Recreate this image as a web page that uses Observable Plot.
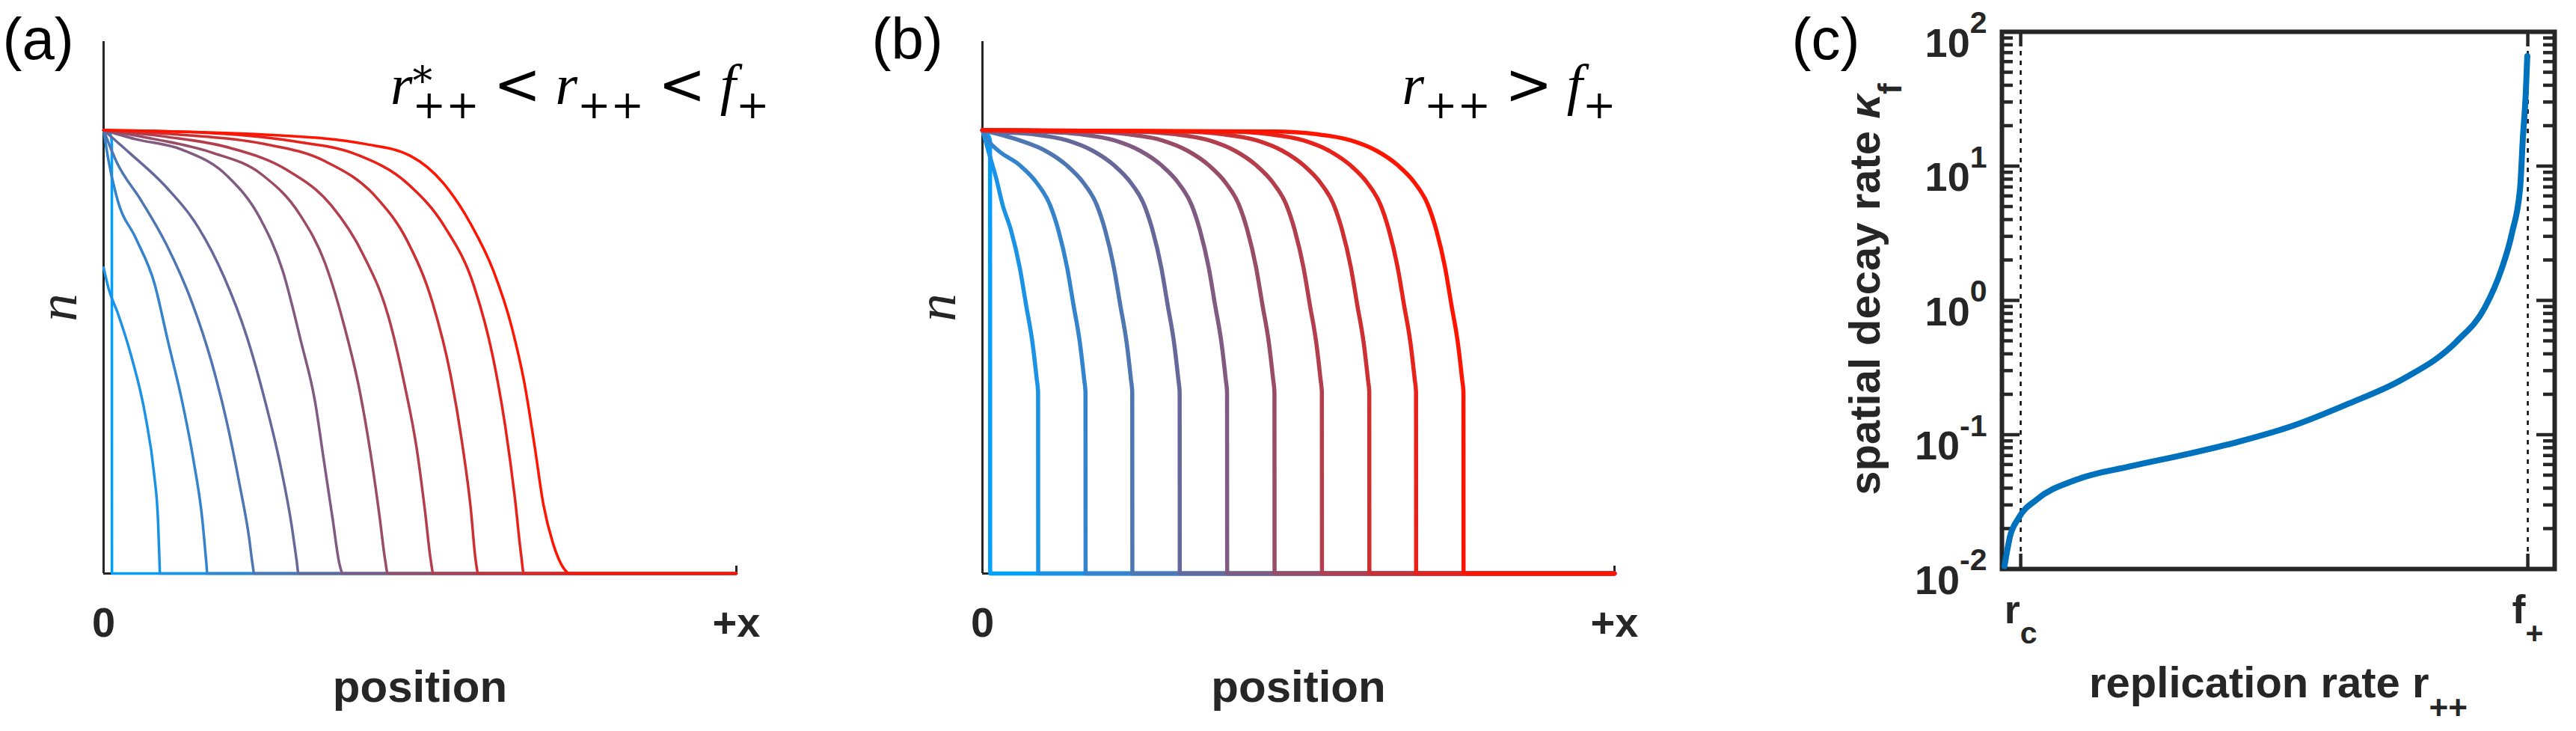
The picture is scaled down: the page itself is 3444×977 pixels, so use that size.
<!DOCTYPE html>
<html><head><meta charset="utf-8">
<script src="https://cdn.jsdelivr.net/npm/d3@7"></script>
<script src="https://cdn.jsdelivr.net/npm/@observablehq/plot@0.6"></script>
<style>
html,body{margin:0;padding:0;background:#fff;}
#fig{position:relative;width:3444px;height:977px;overflow:hidden;background:#fff;}
</style></head><body><div id="fig"></div>
<script>
// ---------------- data ----------------
const curveIds = [1,2,3,4,5,6,7,8,9,10,11];
// panel (a): profiles n(position), r*++ < r++ < f+
const a1 = [[0,1],[0.011,0.99],[0.013,0.97],[0.0132,0],[1,0]];
const a2 = [[0,0.69],[0.008,0.642],[0.022,0.589],[0.044,0.489],[0.066,0.356],[0.080,0.222],[0.086,0.12],[0.0885,0.02],[0.089,0],[1,0]];
const a3 = [[0,1],[0.008,0.93],[0.022,0.843],[0.051,0.756],[0.080,0.656],[0.102,0.522],[0.124,0.389],[0.142,0.256],[0.156,0.122],[0.162,0.03],[0.164,0],[1,0]];
const a4 = [[0,1],[0.02,0.93],[0.06,0.84],[0.1,0.74],[0.14,0.61],[0.17,0.48],[0.195,0.34],[0.215,0.2],[0.23,0.08],[0.235,0.025],[0.238,0],[1,0]];
const a5 = [[0,1],[0.04,0.95],[0.1,0.87],[0.15,0.78],[0.19,0.67],[0.225,0.54],[0.255,0.39],[0.28,0.24],[0.297,0.11],[0.305,0.03],[0.308,0],[1,0]];
const a6 = [[0,1],[0.05,0.98],[0.124,0.956],[0.196,0.896],[0.247,0.802],[0.283,0.683],[0.312,0.523],[0.334,0.389],[0.348,0.256],[0.362,0.123],[0.373,0.02],[0.378,0],[1,0]];
const a7 = [[0,1],[0.08,0.98],[0.17,0.95],[0.25,0.9],[0.31,0.81],[0.35,0.7],[0.38,0.56],[0.405,0.41],[0.422,0.27],[0.436,0.13],[0.445,0.03],[0.449,0],[1,0]];
const a8 = [[0,1],[0.1,0.985],[0.2,0.96],[0.29,0.91],[0.36,0.83],[0.41,0.72],[0.45,0.58],[0.475,0.43],[0.495,0.28],[0.508,0.14],[0.517,0.03],[0.521,0],[1,0]];
const a9 = [[0,1],[0.12,0.99],[0.25,0.97],[0.35,0.93],[0.43,0.85],[0.48,0.75],[0.52,0.61],[0.548,0.45],[0.566,0.3],[0.58,0.15],[0.588,0.03],[0.592,0],[1,0]];
const a10 = [[0,1],[0.15,0.995],[0.3,0.975],[0.4,0.945],[0.48,0.88],[0.54,0.78],[0.585,0.65],[0.615,0.49],[0.635,0.33],[0.65,0.17],[0.66,0.04],[0.664,0],[1,0]];
const a11 = [[0,1],[0.268,0.989],[0.413,0.969],[0.485,0.942],[0.536,0.882],[0.58,0.789],[0.616,0.683],[0.645,0.556],[0.666,0.422],[0.681,0.289],[0.695,0.156],[0.71,0.069],[0.728,0.01],[0.736,0],[1,0]];
// panel (b): profiles n(position), r++ > f+ (sharp front at n ~ 0.41)
const b1 = [[0,1],[0.010,0.985],[0.012,0.975],[0.0122,0],[1,0]];
const b2 = [[0,1],[0.012,0.94],[0.022,0.89],[0.032,0.831],[0.045,0.775],[0.059,0.69],[0.069,0.606],[0.079,0.522],[0.086,0.437],[0.088,0.41],[0.0882,0],[1,0]];
const b3 = [[0,1],[0.01,0.975],[0.025,0.954],[0.059,0.921],[0.086,0.881],[0.107,0.831],[0.12,0.775],[0.134,0.69],[0.144,0.606],[0.154,0.522],[0.161,0.437],[0.163,0.41],[0.1632,0],[1,0]];
const b4 = [[0,1],[0.059,0.977],[0.099,0.954],[0.133,0.921],[0.16,0.881],[0.181,0.831],[0.194,0.775],[0.208,0.69],[0.218,0.606],[0.228,0.522],[0.235,0.437],[0.237,0.41],[0.2372,0],[1,0]];
const b5 = [[0,1],[0.012,0.997],[0.079,0.991],[0.134,0.977],[0.174,0.954],[0.208,0.921],[0.235,0.881],[0.256,0.831],[0.269,0.775],[0.283,0.69],[0.293,0.606],[0.303,0.522],[0.31,0.437],[0.312,0.41],[0.3122,0],[1,0]];
const b6 = [[0,1],[0.087,0.997],[0.154,0.991],[0.209,0.977],[0.249,0.954],[0.283,0.921],[0.31,0.881],[0.331,0.831],[0.344,0.775],[0.358,0.69],[0.368,0.606],[0.378,0.522],[0.385,0.437],[0.387,0.41],[0.3872,0],[1,0]];
const b7 = [[0,1],[0.162,0.997],[0.229,0.991],[0.284,0.977],[0.324,0.954],[0.358,0.921],[0.385,0.881],[0.406,0.831],[0.419,0.775],[0.433,0.69],[0.443,0.606],[0.453,0.522],[0.46,0.437],[0.462,0.41],[0.4622,0],[1,0]];
const b8 = [[0,1],[0.077,0.998],[0.237,0.997],[0.304,0.991],[0.359,0.977],[0.399,0.954],[0.433,0.921],[0.46,0.881],[0.481,0.831],[0.494,0.775],[0.508,0.69],[0.518,0.606],[0.528,0.522],[0.535,0.437],[0.537,0.41],[0.5372,0],[1,0]];
const b9 = [[0,1],[0.152,0.998],[0.312,0.997],[0.379,0.991],[0.434,0.977],[0.474,0.954],[0.508,0.921],[0.535,0.881],[0.556,0.831],[0.569,0.775],[0.583,0.69],[0.593,0.606],[0.603,0.522],[0.61,0.437],[0.612,0.41],[0.6122,0],[1,0]];
const b10 = [[0,1],[0.226,0.998],[0.386,0.997],[0.453,0.991],[0.508,0.977],[0.548,0.954],[0.582,0.921],[0.609,0.881],[0.63,0.831],[0.643,0.775],[0.657,0.69],[0.667,0.606],[0.677,0.522],[0.684,0.437],[0.686,0.41],[0.6862,0],[1,0]];
const b11 = [[0,1],[0.301,0.998],[0.461,0.997],[0.528,0.991],[0.583,0.977],[0.623,0.954],[0.657,0.921],[0.684,0.881],[0.705,0.831],[0.718,0.775],[0.732,0.69],[0.742,0.606],[0.752,0.522],[0.759,0.437],[0.761,0.41],[0.7612,0],[1,0]];
// panel (c): spatial decay rate vs replication rate (r_c = 0, f+ = 1)
const cRate  = [-0.032,-0.021,-0.004,0.032,0.108,0.215,0.323,0.431,0.538,0.646,0.754,0.861,0.915,0.947,0.969,0.985,0.990,0.996,0.999];
const cDecay = [0.0105,0.0175,0.024,0.033,0.046,0.058,0.071,0.089,0.117,0.17,0.26,0.50,0.88,1.66,3.2,7.0,15.5,35,66];
// ticks and labels
const abTickPos = [0, 1];
const abTickLabels = ["0", "+x"];
const cXTickPos = [0, 1];
const cXTickLabels = ["r_{c}", "f_{+}"];
const cYMajor = [0.01, 0.1, 1, 10, 100];
const cYTickLabels = ["10^{-2}", "10^{-1}", "10^{0}", "10^{1}", "10^{2}"];
const cYMinor = [0.02,0.03,0.04,0.05,0.06,0.07,0.08,0.09,0.2,0.3,0.4,0.5,0.6,0.7,0.8,0.9,2,3,4,5,6,7,8,9,20,30,40,50,60,70,80,90];
const labelA = "$r^{*}_{++} < r_{++} < f_{+}";
const labelB = "$r_{++} > f_{+}";

// ---------------- helpers ----------------
const profilesA = [a1,a2,a3,a4,a5,a6,a7,a8,a9,a10,a11];
const profilesB = [b1,b2,b3,b4,b5,b6,b7,b8,b9,b10,b11];
const toTable = (profiles) => profiles.flatMap((p, i) => p.map(([x, n]) => ({k: curveIds[i], x, n})));
const tableA = toTable(profilesA);
const tableB = toTable(profilesB);
const tableC = cRate.map((r, i) => ({r, kappa: cDecay[i]}));

const SANS = "'Liberation Sans', Arial, Helvetica, sans-serif";
const SERIF = "'Liberation Serif', 'Times New Roman', serif";
const SYM = "'DejaVu Serif', serif";
const AX = "#262626";
const blueEnd = "#00a0ff", redEnd = "#ff1400";

function profilePanel({table, label, panelLabel, marginLeft, marginRight, lw}) {
  const plotH = 977 - 55 - 211;
  return Plot.plot({
    width: 1150, height: 977, marginTop: 55, marginBottom: 211, marginLeft, marginRight,
    style: {fontFamily: SANS, background: "transparent", overflow: "visible"},
    x: {domain: [0, 1], axis: null},
    y: {domain: [0, 1.2], axis: null},
    color: {type: "linear", domain: [1, 11], range: [blueEnd, redEnd], interpolate: "rgb"},
    marks: [
      Plot.ruleX([0], {stroke: AX, strokeWidth: 3}),
      Plot.ruleY([0], {stroke: AX, strokeWidth: 3}),
      Plot.tickX([1], {stroke: AX, strokeWidth: 3, insetTop: plotH - 10}),
      Plot.line(table, {x: "x", y: "n", z: "k", stroke: "k", strokeWidth: lw, curve: "monotone-x", strokeLinejoin: "round"}),
      Plot.text(abTickPos, {x: d => d, frameAnchor: "bottom", text: (d, i) => abTickLabels[i], lineAnchor: "bottom", dy: 84, fontSize: 56, fontWeight: "bold", fill: AX}),
      Plot.text(["position"], {frameAnchor: "bottom", text: d => d, lineAnchor: "bottom", dy: 171, fontSize: 60, fontWeight: "bold", fill: AX}),
      Plot.text(["n"], {frameAnchor: "left", text: d => d, rotate: -90, textAnchor: "middle", lineAnchor: "middle", dx: -61, fontSize: 75, fontFamily: SERIF, fontStyle: "italic", fill: AX}),
      Plot.text([panelLabel.text], {frameAnchor: "top-left", text: d => d, textAnchor: "start", lineAnchor: "bottom", dx: panelLabel.dx, dy: 23, fontSize: 78, fill: "black"}),
      Plot.text([label.text], {frameAnchor: "top-right", text: d => d, textAnchor: "end", lineAnchor: "bottom", dx: label.dx, dy: 83, fontSize: 76, fontFamily: SERIF, fill: "black"})
    ]
  });
}

const plotA = profilePanel({table: tableA, label: {text: labelA, dx: 44}, panelLabel: {text: "(a)", dx: -135}, marginLeft: 138, marginRight: 166, lw: 3.5});
const plotB = profilePanel({table: tableB, label: {text: labelB, dx: 2}, panelLabel: {text: "(b)", dx: -148}, marginLeft: 163, marginRight: 142, lw: 5.5});

const CW = 1144 - 376 - 29, CH = 977 - 42 - 217;
const tickStyle = {stroke: AX, strokeWidth: 4.5};
const plotC = Plot.plot({
  width: 1144, height: 977, marginLeft: 376, marginRight: 29, marginTop: 42, marginBottom: 217,
  style: {fontFamily: SANS, background: "transparent", overflow: "visible"},
  x: {domain: [-0.037, 1.053], axis: null},
  y: {type: "log", domain: [0.01, 100], axis: null},
  marks: [
    Plot.ruleX(cXTickPos, {stroke: "black", strokeWidth: 2.5, strokeDasharray: "6,7"}),
    Plot.tickY(cYMinor, {...tickStyle, insetRight: CW - 15}),
    Plot.tickY(cYMinor, {...tickStyle, insetLeft: CW - 15}),
    Plot.tickY(cYMajor, {...tickStyle, insetRight: CW - 24}),
    Plot.tickY(cYMajor, {...tickStyle, insetLeft: CW - 24}),
    Plot.tickX(cXTickPos, {...tickStyle, insetTop: CH - 20}),
    Plot.tickX(cXTickPos, {...tickStyle, insetBottom: CH - 20}),
    Plot.frame({stroke: AX, strokeWidth: 6}),
    Plot.line(tableC, {x: "r", y: "kappa", stroke: "#0072bd", strokeWidth: 8, curve: "monotone-x"}),
    Plot.text(cYMajor, {y: d => d, frameAnchor: "left", text: (d, i) => cYTickLabels[i], textAnchor: "end", lineAnchor: "bottom", dx: -20, dy: 33, fontSize: 54, fontWeight: "bold", fill: AX}),
    Plot.text(cXTickPos, {x: d => d, frameAnchor: "bottom", text: (d, i) => cXTickLabels[i], textAnchor: "middle", lineAnchor: "bottom", dy: 72, fontSize: 54, fontWeight: "bold", fill: AX}),
    Plot.text(["replication rate r_{++}"], {frameAnchor: "bottom", text: d => d, textAnchor: "middle", lineAnchor: "bottom", dy: 171, fontSize: 58, fontWeight: "bold", fill: AX}),
    Plot.text(["spatial decay rate κ_{f}"], {frameAnchor: "left", text: d => d, rotate: -90, textAnchor: "middle", lineAnchor: "bottom", dx: -164, dy: -15, fontSize: 58, fontWeight: "bold", fill: AX}),
    Plot.text(["(c)"], {frameAnchor: "top-left", text: d => d, textAnchor: "start", lineAnchor: "bottom", dx: -281, dy: 36, fontSize: 78, fill: "black"})
  ]
});

// rich text: ^{..} superscripts, _{..} subscripts, "$" prefix = math (italic letters, serif symbols)
function parseRich(s) {
  const segs = []; let buf = ""; let i = 0;
  while (i < s.length) {
    const c = s[i];
    if ((c === "^" || c === "_") && s[i + 1] === "{") {
      if (buf) { segs.push({t: buf, k: "n"}); buf = ""; }
      const j = s.indexOf("}", i + 2);
      segs.push({t: s.slice(i + 2, j), k: c === "^" ? "sup" : "sub"});
      i = j + 1;
    } else { buf += c; i++; }
  }
  if (buf) segs.push({t: buf, k: "n"});
  return segs;
}
function richify(root) {
  root.querySelectorAll("text").forEach(el => {
    let s = el.textContent;
    const math = s.startsWith("$");
    if (!math && !/[\^_]\{/.test(s) && !/[α-ω]/.test(s)) return;
    if (math) s = s.slice(1);
    const fs = parseFloat(getComputedStyle(el).fontSize);
    const P = math ? {sc: 0.7, sup: -0.17, sub: 0.26} : {sc: 0.76, sup: -0.58, sub: 0.5};
    const segs = parseRich(s);
    el.textContent = "";
    let base = 0, prev = null, prevW = 0;
    for (const seg of segs) {
      const target = seg.k === "n" ? 0 : (seg.k === "sup" ? P.sup : P.sub) * fs;
      const size = seg.k === "n" ? fs : fs * P.sc;
      const dy = target - base; base = target;
      const dx = (prev && prev.k !== "n" && seg.k !== "n" && prev.k !== seg.k) ? -prevW : 0;
      const re = math ? /[A-Za-z]+|\s+|[^A-Za-z\s]+/g : /[α-ω]+|[^α-ω]+/g;
      const runs = seg.t.match(re) || [seg.t];
      let w = 0;
      runs.forEach((r, idx) => {
        const ts = document.createElementNS("http://www.w3.org/2000/svg", "tspan");
        ts.textContent = r;
        ts.setAttribute("font-size", size);
        if (idx === 0) { if (dy) ts.setAttribute("dy", dy); if (dx) ts.setAttribute("dx", dx); }
        if ((math && /[A-Za-z]/.test(r)) || /[α-ω]/.test(r)) ts.setAttribute("font-style", "italic");
        if (math && /^[^A-Za-z\s]+$/.test(r)) ts.setAttribute("font-family", SYM);
        el.appendChild(ts);
        w += ts.getComputedTextLength();
      });
      prev = seg; prevW = w;
    }
  });
}

const fig = document.getElementById("fig");
[[plotA, 0], [plotB, 1150], [plotC, 2300]].forEach(([p, left]) => {
  p.style.position = "absolute";
  p.style.left = left + "px";
  p.style.top = "0px";
  p.style.maxWidth = "none";
  fig.appendChild(p);
  richify(p);
});
</script></body></html>
